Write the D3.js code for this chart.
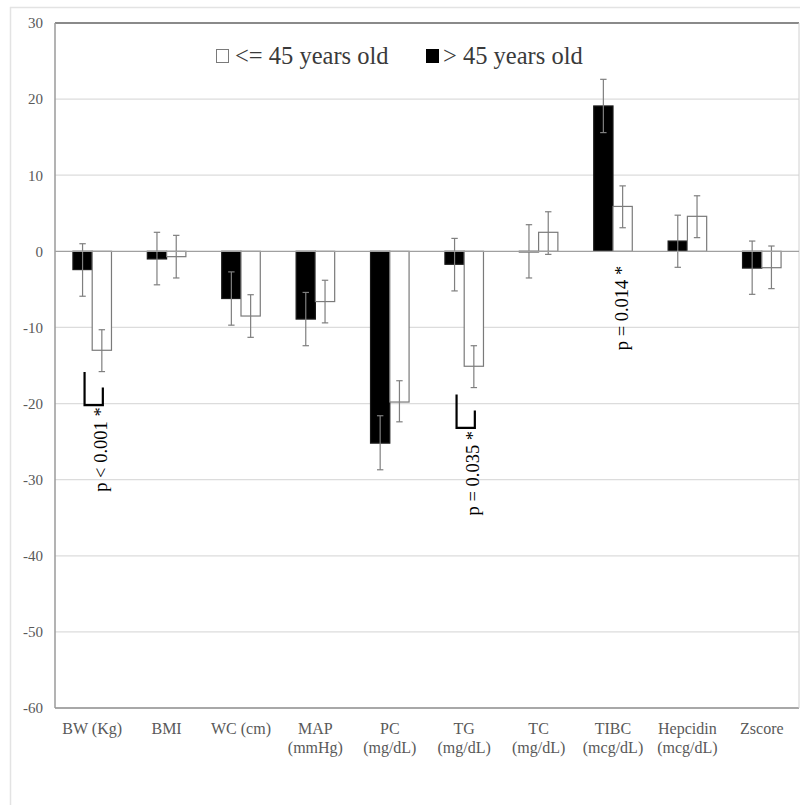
<!DOCTYPE html>
<html>
<head>
<meta charset="utf-8">
<script src="https://cdn.jsdelivr.net/npm/d3@7"></script>
<style>
  html, body { margin: 0; padding: 0; background: #fff; }
  svg { display: block; }
</style>
</head>
<body>
<svg id="chart" width="800" height="805"></svg>
<script>
// ---------- data ----------
const categories = ["BW (Kg)", "BMI", "WC (cm)", "MAP\n(mmHg)", "PC\n(mg/dL)", "TG\n(mg/dL)", "TC\n(mg/dL)", "TIBC\n(mcg/dL)", "Hepcidin\n(mcg/dL)", "Zscore"];
const seriesNames = ["> 45 years old", "<= 45 years old"];
const olderValues   = [-2.4, -1.0, -6.2, -8.9, -25.2, -1.7, 0.0, 19.1, 1.35, -2.2];
const olderErrLow   = [-5.9, -4.4, -9.7, -12.4, -28.7, -5.2, -3.5, 15.6, -2.1, -5.65];
const olderErrHigh  = [1.0, 2.5, -2.7, -5.4, -21.6, 1.7, 3.5, 22.6, 4.75, 1.35];
const youngerValues = [-13.0, -0.7, -8.5, -6.6, -19.8, -15.1, 2.5, 5.9, 4.6, -2.15];
const youngerErrLow = [-15.8, -3.5, -11.3, -9.4, -22.4, -17.9, -0.4, 3.1, 1.8, -4.9];
const youngerErrHigh= [-10.3, 2.1, -5.7, -3.8, -17.0, -12.4, 5.2, 8.6, 7.3, 0.7];
const yTicks = [30, 20, 10, 0, -10, -20, -30, -40, -50, -60];
const annotations = [
  { cat: 0, text: "p < 0.001 *", top: -20.5, bracket: [-15.85, -20.2, -17.9] },
  { cat: 5, text: "p = 0.035 *", top: -23.6, bracket: [-18.8, -23.2, -20.9] },
  { cat: 7, text: "p = 0.014 *", top: -1.9, bracket: null }
];

// ---------- layout ----------
const svg = d3.select("#chart");
const pLeft = 55, pRight = 799, pTop = 23, pBottom = 708;
const serif = "'Times New Roman', 'Liberation Serif', serif";

const x = d3.scaleBand().domain(categories).range([pLeft, pRight]).padding(0);
const x1 = d3.scaleBand().domain(seriesNames).range([0, x.bandwidth()]).paddingInner(0).paddingOuter(0.93);
const y = d3.scaleLinear().domain([-60, 30]).range([pBottom, pTop]);

// outer frame
svg.append("rect").attr("x", 10.5).attr("y", 7.5).attr("width", 800).attr("height", 810)
  .attr("fill", "none").attr("stroke", "#e3e3e3").attr("stroke-width", 1.5);

// gridlines
svg.append("g").selectAll("line").data(yTicks.filter(t => t !== 30 && t !== -60 && t !== 0)).join("line")
  .attr("x1", pLeft).attr("x2", pRight).attr("y1", d => y(d)).attr("y2", d => y(d))
  .attr("stroke", "#dcdcdc").attr("stroke-width", 1.2);

// y axis labels (plain hyphen minus like the original)
const yAxis = d3.axisLeft(y).tickValues(yTicks).tickSize(0).tickPadding(12).tickFormat(d => String(d));
const ya = svg.append("g").attr("transform", `translate(${pLeft},0)`).call(yAxis);
ya.select(".domain").remove();
ya.selectAll("text").attr("font-family", serif).attr("font-size", 15).attr("fill", "#595959");

// plot frame
svg.append("line").attr("x1", pLeft).attr("x2", pRight).attr("y1", pTop).attr("y2", pTop)
  .attr("stroke", "#8a8a8a").attr("stroke-width", 2);
svg.append("line").attr("x1", pLeft).attr("x2", pRight).attr("y1", pBottom).attr("y2", pBottom)
  .attr("stroke", "#a8a8a8").attr("stroke-width", 2);
svg.append("line").attr("x1", pLeft).attr("x2", pLeft).attr("y1", pTop).attr("y2", pBottom)
  .attr("stroke", "#9a9a9a").attr("stroke-width", 1.5);
svg.append("line").attr("x1", pRight).attr("x2", pRight).attr("y1", pTop).attr("y2", pBottom)
  .attr("stroke", "#d0d0d0").attr("stroke-width", 1);

// bars
const rows = categories.map((c, i) => ({
  cat: c,
  vals: [
    { s: seriesNames[0], v: olderValues[i], lo: olderErrLow[i], hi: olderErrHigh[i] },
    { s: seriesNames[1], v: youngerValues[i], lo: youngerErrLow[i], hi: youngerErrHigh[i] }
  ]
}));
const fills = { [seriesNames[0]]: "#000000", [seriesNames[1]]: "#ffffff" };
const strokes = { [seriesNames[0]]: "#1a1a1a", [seriesNames[1]]: "#7a7a7a" };

const groups = svg.append("g").selectAll("g").data(rows).join("g")
  .attr("transform", d => `translate(${x(d.cat)},0)`);
groups.selectAll("rect").data(d => d.vals).join("rect")
  .attr("x", d => x1(d.s)).attr("width", x1.bandwidth())
  .attr("y", d => y(Math.max(0, d.v))).attr("height", d => Math.max(0.5, Math.abs(y(d.v) - y(0))))
  .attr("fill", d => fills[d.s]).attr("stroke", d => strokes[d.s]).attr("stroke-width", 1.2);

// zero line
svg.append("line").attr("x1", pLeft).attr("x2", pRight).attr("y1", y(0)).attr("y2", y(0))
  .attr("stroke", "#a0a0a0").attr("stroke-width", 1.3);

// error bars
const eb = groups.selectAll("g.err").data(d => d.vals).join("g").attr("class", "err")
  .attr("transform", d => `translate(${x1(d.s) + x1.bandwidth() / 2},0)`);
eb.append("line").attr("x1", 0).attr("x2", 0).attr("y1", d => y(d.hi)).attr("y2", d => y(d.lo))
  .attr("stroke", "#7f7f7f").attr("stroke-width", 1.2);
eb.append("line").attr("x1", -3.2).attr("x2", 3.2).attr("y1", d => y(d.hi)).attr("y2", d => y(d.hi))
  .attr("stroke", "#7f7f7f").attr("stroke-width", 1.2);
eb.append("line").attr("x1", -3.2).attr("x2", 3.2).attr("y1", d => y(d.lo)).attr("y2", d => y(d.lo))
  .attr("stroke", "#7f7f7f").attr("stroke-width", 1.2);

// x labels
const xl = svg.append("g").selectAll("text").data(categories).join("text")
  .attr("x", d => x(d) + x.bandwidth() / 2)
  .attr("y", 734)
  .attr("text-anchor", "middle")
  .attr("font-family", serif).attr("font-size", 16).attr("fill", "#595959");
xl.selectAll("tspan").data(d => d.split("\n")).join("tspan")
  .attr("x", function () { return d3.select(this.parentNode).attr("x"); })
  .attr("dy", (d, i) => i === 0 ? 0 : 19)
  .text(d => d);

// legend
const legend = [
  { s: seriesNames[1], sx: 216, tx: 235 },
  { s: seriesNames[0], sx: 426, tx: 443 }
];
const lg = svg.append("g").selectAll("g").data(legend).join("g");
lg.append("rect").attr("x", d => d.sx + 0.5).attr("y", 49.5).attr("width", 12).attr("height", 13)
  .attr("fill", d => fills[d.s]).attr("stroke", d => d.s === seriesNames[1] ? "#7a7a7a" : "#000").attr("stroke-width", 1);
lg.append("text").attr("x", d => d.tx).attr("y", 64)
  .attr("font-family", serif).attr("font-size", 24.5).attr("fill", "#3a3a3a")
  .text(d => d.s);

// annotations
const an = svg.append("g").selectAll("g").data(annotations).join("g");
an.each(function (d) {
  const g = d3.select(this);
  const bx = x(categories[d.cat]);
  const cBlack = bx + x1(seriesNames[0]) + x1.bandwidth() / 2 + 2;
  const cWhite = bx + x1(seriesNames[1]) + x1.bandwidth() / 2;
  if (d.bracket) {
    const [t, b, r] = d.bracket;
    g.append("path")
      .attr("d", `M${cBlack},${y(t)}V${y(b)}H${cWhite + 1}V${y(r)}`)
      .attr("fill", "none").attr("stroke", "#000").attr("stroke-width", 2.2);
  }
  const tx = cWhite - 1;
  const ty = y(d.top);
  g.append("text")
    .attr("transform", `translate(${tx},${ty}) rotate(-90)`)
    .attr("text-anchor", "end")
    .attr("dominant-baseline", "central")
    .attr("font-family", serif).attr("font-size", 18.5).attr("fill", "#000")
    .text(d.text);
});
</script>
</body>
</html>
